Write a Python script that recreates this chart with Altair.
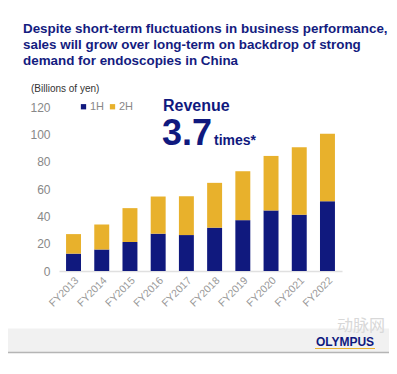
import altair as alt
import pandas as pd

years = ["FY2013", "FY2014", "FY2015", "FY2016", "FY2017",
         "FY2018", "FY2019", "FY2020", "FY2021", "FY2022"]
h1 = [12.7, 15.8, 21.2, 27.3, 26.3, 31.7, 37.2, 44.3, 41.2, 51.1]
h2 = [14.3, 18.3, 24.8, 27.2, 28.4, 32.8, 35.8, 39.9, 49.3, 49.4]
halves = ["1H", "2H"]
y_ticks = [0, 20, 40, 60, 80, 100, 120]

title_lines = [
    "Despite short-term fluctuations in business performance,",
    "sales will grow over long-term on backdrop of strong",
    "demand for endoscopies in China",
]

NAVY = "#10197e"
GOLD = "#e8b12c"
FONT = "Liberation Sans"

rows = []
for i, y in enumerate(years):
    rows.append({"year": y, "half": "1H", "value": h1[i], "ord": 0})
    rows.append({"year": y, "half": "2H", "value": h2[i], "ord": 1})
df = pd.DataFrame(rows)

W, H = 283, 164

bars = alt.Chart(df).mark_bar().encode(
    x=alt.X("year:N", sort=years, title=None,
            scale=alt.Scale(paddingInner=0.47, paddingOuter=0.25),
            axis=alt.Axis(labelAngle=-45, labelColor="#999", labelFontSize=10.5,
                          labelFont=FONT, ticks=False, domainColor="#e0e0e0",
                          domainWidth=1.5, labelPadding=4)),
    y=alt.Y("value:Q", stack="zero", title=None,
            scale=alt.Scale(domain=[0, 120], nice=False),
            axis=alt.Axis(values=y_ticks, grid=False, domain=False, ticks=False,
                          labelColor="#888", labelFontSize=12, labelFont=FONT,
                          labelPadding=9)),
    color=alt.Color("half:N", scale=alt.Scale(domain=halves, range=[NAVY, GOLD]),
                    legend=alt.Legend(orient="none", legendX=19, legendY=-6,
                                      direction="horizontal", title=None,
                                      symbolType="square", symbolSize=28,
                                      symbolStrokeWidth=0, labelFontSize=11,
                                      labelColor="#888", labelFont=FONT,
                                      columnPadding=2, labelOffset=1)),
    order=alt.Order("ord:Q"),
)

one = pd.DataFrame({"k": [0]})

def txt(text, x, y, size, color, weight="normal", font=FONT, align="left", baseline="alphabetic", opacity=1):
    return alt.Chart(one).mark_text(text=text, align=align, baseline=baseline,
                                    fontSize=size, fontWeight=weight, font=font,
                                    color=color, opacity=opacity).encode(
        x=alt.value(x), y=alt.value(y))

layers = []
# footer band
layers.append(alt.Chart(one).mark_rect(color="#f1f1f1").encode(
    x=alt.value(-51), x2=alt.value(330), y=alt.value(221.5), y2=alt.value(245)))
layers.append(alt.Chart(one).mark_rule(color="#b5b5b5", strokeWidth=1.5).encode(
    x=alt.value(-51), x2=alt.value(330), y=alt.value(245.5)))
layers.append(bars)
for i, line in enumerate(title_lines):
    layers.append(txt(line, -36, -74 + 16 * i, 13.4, "#141c80", "bold"))
layers.append(txt("(Billions of yen)", -28, -15, 10, "#333"))
layers.append(txt("Revenue", 104, 3.5, 16, NAVY, "bold"))
layers.append(txt("3.7", 103, 38, 36, NAVY, "bold"))
layers.append(txt("times*", 155, 38, 14, NAVY, "bold"))
layers.append(txt("动脉网", 278, 224, 16, "#d8d8d8", font="Noto Sans CJK SC"))
layers.append(txt("OLYMPUS", 286, 238.5, 12, NAVY, "bold", align="center"))
layers.append(alt.Chart(one).mark_rule(color=GOLD, strokeWidth=1).encode(
    x=alt.value(256), x2=alt.value(316), y=alt.value(241.5)))

chart = alt.layer(*layers).properties(
    width=W, height=H,
    autosize=alt.AutoSizeParams(type="none"),
    padding={"left": 51, "top": 99, "right": 47, "bottom": 95},
).configure_view(stroke=None)

chart.save("out.html", embed_options={"renderer": "svg", "actions": False})
